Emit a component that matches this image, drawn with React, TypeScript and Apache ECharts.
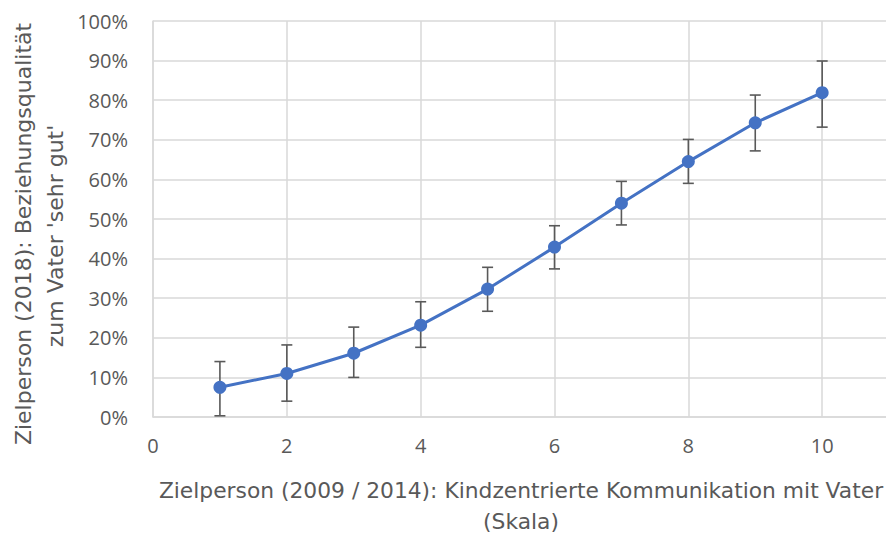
import React, { useEffect, useRef } from "react";
import * as echarts from "echarts";

const xValues = [1, 2, 3, 4, 5, 6, 7, 8, 9, 10];
const meanValues = [0.075, 0.11, 0.161, 0.232, 0.323, 0.429, 0.54, 0.645, 0.743, 0.819];
const lowValues = [0.003, 0.04, 0.1, 0.176, 0.267, 0.374, 0.485, 0.59, 0.672, 0.732];
const highValues = [0.14, 0.182, 0.227, 0.291, 0.378, 0.483, 0.595, 0.701, 0.813, 0.899];

const xTitle = "Zielperson (2009 / 2014): Kindzentrierte Kommunikation mit Vater";
const xTitle2 = "(Skala)";
const yTitle1 = "Zielperson (2018): Beziehungsqualität";
const yTitle2 = "zum Vater 'sehr gut'";

const FONT = "'Open Sans', sans-serif";
const TITLE_FONT = "'DejaVu Sans', sans-serif";
const TEXT_COLOR = "#595959";

export default function App() {
  const ref = useRef<HTMLDivElement>(null);
  useEffect(() => {
    if (!ref.current) return;
    const chart = echarts.init(ref.current, undefined, { renderer: "svg" });
    const lineData = xValues.map((x, i) => [x, meanValues[i]]);
    const errData = xValues.map((x, i) => [x, lowValues[i], highValues[i]]);
    chart.setOption({
      animation: false,
      backgroundColor: "#ffffff",
      grid: {
        left: 153,
        width: 803,
        top: 21,
        bottom: 117,
        containLabel: false,
        outerBoundsMode: "none",
      },
      xAxis: {
        type: "value",
        min: 0,
        max: 12,
        interval: 2,
        axisLine: { show: true, lineStyle: { color: "#d9d9d9", width: 1.5 } },
        axisTick: { show: false },
        splitLine: { show: true, lineStyle: { color: "#d9d9d9", width: 1.5 } },
        axisLabel: {
          color: TEXT_COLOR,
          fontSize: 20,
          fontFamily: FONT,
          margin: 18,
          showMaxLabel: false,
          formatter: (v: number) => (v > 10 ? "" : String(v)),
        },
      },
      yAxis: {
        type: "value",
        min: 0,
        max: 1,
        interval: 0.1,
        axisLine: { show: true, lineStyle: { color: "#d9d9d9", width: 1.5 } },
        axisTick: { show: false },
        splitLine: { show: true, lineStyle: { color: "#d9d9d9", width: 1.5 } },
        axisLabel: {
          color: TEXT_COLOR,
          fontSize: 20,
          fontFamily: FONT,
          margin: 25,
          formatter: (v: number) => Math.round(v * 100) + "%",
        },
      },
      series: [
        {
          type: "custom",
          z: 1,
          data: errData,
          renderItem: (params: any, api: any) => {
            const x = api.value(0);
            const top = api.coord([x, api.value(2)]);
            const bot = api.coord([x, api.value(1)]);
            const hw = 5.5;
            const style = { stroke: "#595959", lineWidth: 1.6 };
            return {
              type: "group",
              children: [
                { type: "line", shape: { x1: top[0], y1: top[1], x2: bot[0], y2: bot[1] }, style },
                { type: "line", shape: { x1: top[0] - hw, y1: top[1], x2: top[0] + hw, y2: top[1] }, style },
                { type: "line", shape: { x1: bot[0] - hw, y1: bot[1], x2: bot[0] + hw, y2: bot[1] }, style },
              ],
            };
          },
        },
        {
          type: "line",
          z: 3,
          data: lineData,
          symbol: "circle",
          symbolSize: 13,
          itemStyle: { color: "#4472C4" },
          lineStyle: { color: "#4472C4", width: 3 },
        },
      ],
      graphic: [
        {
          type: "text",
          x: 521,
          y: 490,
          style: { text: xTitle, align: "center", verticalAlign: "middle", fill: TEXT_COLOR, font: `21.8px ${TITLE_FONT}` },
        },
        {
          type: "text",
          x: 521,
          y: 521,
          style: { text: xTitle2, align: "center", verticalAlign: "middle", fill: TEXT_COLOR, font: `21.8px ${TITLE_FONT}` },
        },
        {
          type: "text",
          x: 23,
          y: 234,
          rotation: Math.PI / 2,
          style: { text: yTitle1, align: "center", verticalAlign: "middle", fill: TEXT_COLOR, font: `22px ${TITLE_FONT}` },
        },
        {
          type: "text",
          x: 55,
          y: 236,
          rotation: Math.PI / 2,
          style: { text: yTitle2, align: "center", verticalAlign: "middle", fill: TEXT_COLOR, font: `22px ${TITLE_FONT}` },
        },
      ],
    });
    return () => chart.dispose();
  }, []);
  return (
    <div
      ref={ref}
      style={{ position: "absolute", left: 0, top: 0, width: 886, height: 534 }}
    />
  );
}
